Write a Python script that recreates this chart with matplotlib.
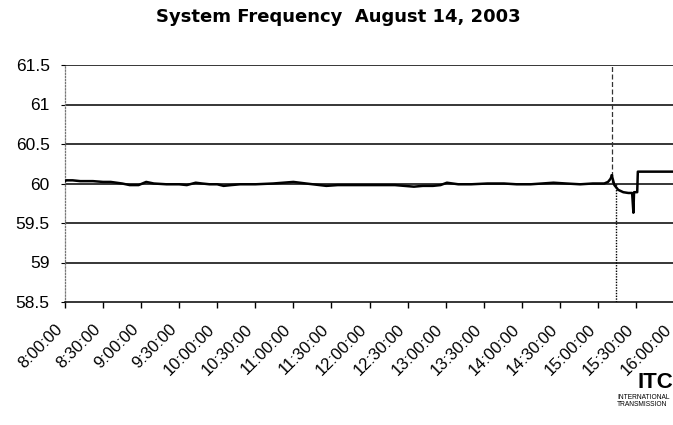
import matplotlib
matplotlib.use('Agg')
import matplotlib.pyplot as plt
import matplotlib.transforms as mtransforms

plt.rcParams['font.family'] = ['Liberation Sans', 'DejaVu Sans']

# minutes after 8:00 and frequency (Hz)
minutes = [0, 1, 6, 12, 22, 30, 36, 45, 51, 58, 64, 70, 80, 90, 96, 103, 108, 114,
           120, 125, 131, 138, 150, 164, 172, 180, 190, 206, 215, 230, 243, 260, 275,
           282, 290, 296, 301, 310, 320, 333, 346, 356, 367, 376, 385, 395, 406, 416,
           425, 428, 430, 431]
freq = [60.03, 60.04, 60.04, 60.03, 60.03, 60.02, 60.02, 60.0, 59.98, 59.98, 60.02, 60.0,
        59.99, 59.99, 59.98, 60.01, 60.0, 59.99, 59.99, 59.97, 59.98, 59.99, 59.99, 60.0,
        60.01, 60.02, 60.0, 59.97, 59.98, 59.98, 59.98, 59.98, 59.96, 59.97, 59.97, 59.98,
        60.01, 59.99, 59.99, 60.0, 60.0, 59.99, 59.99, 60.0, 60.01, 60.0, 59.99, 60.0,
        60.0, 60.02, 60.06, 60.1]

# after the disturbance
after_minutes = [431, 433, 436, 440, 444, 447, 448, 448.5, 450, 451, 451.5, 460, 470, 481]
after_freq = [60.1, 59.98, 59.92, 59.89, 59.88, 59.88, 59.63, 59.89, 59.89, 59.89, 60.15,
              60.15, 60.15, 60.15]

# vertical marks at the event
spike_up_x = [431.5, 431.5]
spike_up_y = [60.0, 61.5]
spike_down_x = [434, 434]
spike_down_y = [60.0, 58.5]

tick_minutes = list(range(0, 481, 30))
tick_labels = ['8:00:00', '8:30:00', '9:00:00', '9:30:00', '10:00:00', '10:30:00',
               '11:00:00', '11:30:00', '12:00:00', '12:30:00', '13:00:00', '13:30:00',
               '14:00:00', '14:30:00', '15:00:00', '15:30:00', '16:00:00']
y_ticks = [58.5, 59, 59.5, 60, 60.5, 61, 61.5]
y_labels = ['58.5', '59', '59.5', '60', '60.5', '61', '61.5']

W, H = 673, 425
fig = plt.figure(figsize=(W / 100, H / 100), dpi=100)
ax = fig.add_axes([65 / W, 1 - 302 / H, (674 - 65) / W, (302 - 65) / H])

for y in y_ticks[1:]:
    ax.axhline(y, color='black', lw=1.1, zorder=1)

ax.plot(spike_up_x, spike_up_y, color='#333333', lw=0.9, ls=(0, (4, 2)), zorder=2)
ax.plot(spike_down_x, spike_down_y, color='black', lw=1.0, ls=(0, (1, 1)), zorder=2)
ax.plot(minutes, freq, color='black', lw=1.8, zorder=3)
ax.plot(after_minutes, after_freq, color='black', lw=1.8, zorder=3)

ax.set_xlim(0, 480)
ax.set_ylim(58.5, 61.5)
ax.set_yticks(y_ticks)
ax.set_yticklabels(y_labels, fontsize=12.5)
ax.set_xticks(tick_minutes)
ax.set_xticklabels(tick_labels, fontsize=12, rotation=45, ha='right', va='center',
                   rotation_mode='anchor')
ax.tick_params(axis='x', length=4, width=1, pad=14, direction='out')
ax.tick_params(axis='y', length=3, width=0.8, pad=8, direction='out')

# nudge the slanted labels a little to the left
shift = mtransforms.ScaledTranslation(-5 / 100, 0, fig.dpi_scale_trans)
for lab in ax.get_xticklabels():
    lab.set_transform(lab.get_transform() + shift)

ax.spines['top'].set_visible(False)
ax.spines['right'].set_visible(False)
ax.spines['bottom'].set_linewidth(1.1)
ax.spines['left'].set_color('#777777')
ax.spines['left'].set_linestyle((0, (1, 1.5)))
ax.spines['left'].set_linewidth(0.9)

fig.text(338 / W, 1 - 17 / H, 'System Frequency  August 14, 2003', fontsize=13,
         fontweight='bold', family='DejaVu Sans', ha='center', va='center')

# ITC logo at the lower right
fig.text(655 / W, 1 - 382 / H, 'ITC', fontsize=16, fontweight='bold',
         ha='center', va='center')
fig.text(617 / W, 1 - 401 / H, 'INTERNATIONAL\nTRANSMISSION', fontsize=4.8,
         ha='left', va='center', linespacing=1.1)

fig.savefig('out.png', dpi=100)
